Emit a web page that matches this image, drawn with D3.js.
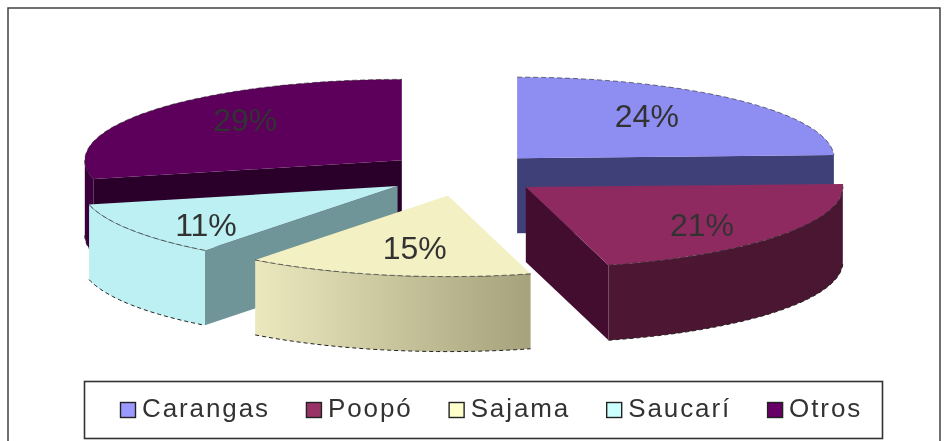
<!DOCTYPE html>
<html><head><meta charset="utf-8">
<script src="https://cdn.jsdelivr.net/npm/d3@7"></script>
<style>html,body{margin:0;padding:0;background:#fff;overflow:hidden}svg{display:block}</style>
</head><body><svg id="c" width="948" height="441"></svg>
<script>
const categories = ["Carangas","Poopó","Sajama","Saucarí","Otros"];
const values = [24.4,21.4,14.6,10.9,28.7];
const labels = ["24%","21%","15%","11%","29%"];
const legendColors = ["#9999FF","#993366","#FFFFCC","#CCFFFF","#660066"];
const topColors = ["#8E8EF2","#8F2B60","#F3F0C4","#BDF0F2","#5C005C"];
const wallColors = ["#404078","#420F2D","#A8A57E","#6F9598","#2B002B"];
const arcLeft = ["#404078","#4E1232","#ECE8BE","#BDF0F2","#3A003A"];
const arcRight = ["#404078","#4A1530","#A5A27C","#BDF0F2","#3A003A"];
const labelFracX = [0.59,0.69,0.54,0.72,0.63];
const labelFracY = [0.72,0.79,0.66,0.88,0.80];

const W=948,H=441,cx=463,cy=174,rx=317,ry=81,depth=75,explodeX=78,explodeY=22;
const svg=d3.select("#c");
const defs=svg.append("defs");
defs.append("filter").attr("id","soft").attr("x",0).attr("y",0).attr("width",1).attr("height",1)
  .append("feGaussianBlur").attr("stdDeviation",0.45);
const root=svg.append("g").attr("filter","url(#soft)");
root.append("rect").attr("width",W).attr("height",H).attr("fill","#fff");
root.append("rect").attr("x",8).attr("y",8).attr("width",932).attr("height",440)
  .attr("fill","#fff").attr("stroke","#333").attr("stroke-width",1.4);

const arcs=d3.pie().sort(null)(values).map((d,i)=>({...d,i}));
const sx=d3.scaleLinear().domain([-1,1]).range([-rx,rx]);
const sy=d3.scaleLinear().domain([-1,1]).range([-ry,ry]);
const apex=d=>{const m=(d.startAngle+d.endAngle)/2;
  return [cx+explodeX*Math.sin(m),cy-explodeY*Math.cos(m)];};
const pt=(d,a,f=1,dz=0)=>{const c=apex(d);
  return [c[0]+sx(f*Math.sin(a)),c[1]+sy(-f*Math.cos(a))+dz];};
const line=d3.line();
const sweep=(a0,a1)=>{const n=Math.max(2,Math.ceil((a1-a0)*40));
  return d3.range(n+1).map(k=>a0+(a1-a0)*k/n);};

function radial(d,a){const c=apex(d),e=pt(d,a);
  return line([c,e,[e[0],e[1]+depth],[c[0],c[1]+depth]])+"Z";}

function drawSlice(d){
  const g=root.append("g"),i=d.i;
  if(Math.sin(d.startAngle)<-1e-6)
    g.append("path").attr("d",radial(d,d.startAngle)).attr("fill",wallColors[i]);
  if(Math.sin(d.endAngle)>1e-6)
    g.append("path").attr("d",radial(d,d.endAngle)).attr("fill",wallColors[i]);
  const a0=Math.max(d.startAngle,Math.PI/2),a1=Math.min(d.endAngle,Math.PI*1.5);
  if(a1>a0){
    const top=sweep(a0,a1).map(a=>pt(d,a));
    const bot=sweep(a0,a1).map(a=>pt(d,a,1,depth)).reverse();
    const xs=top.map(p=>p[0]);
    const id="arcg"+i;
    const lg=defs.append("linearGradient").attr("id",id).attr("gradientUnits","userSpaceOnUse")
      .attr("x1",d3.min(xs)).attr("x2",d3.max(xs)).attr("y1",0).attr("y2",0);
    lg.append("stop").attr("offset",0).attr("stop-color",arcLeft[i]);
    lg.append("stop").attr("offset",1).attr("stop-color",arcRight[i]);
    g.append("path").attr("d",line(top.concat(bot))+"Z").attr("fill",`url(#${id})`);
    g.append("path").attr("d",line(bot)).attr("fill","none").attr("stroke","#222")
      .attr("stroke-width",1).attr("stroke-dasharray","4 3");
    g.append("path").attr("d",line(top)).attr("fill","none").attr("stroke","#444").attr("stroke-opacity",0.6).attr("stroke-width",1);
  }
  const face=[apex(d)].concat(sweep(d.startAngle,d.endAngle).map(a=>pt(d,a)));
  g.append("path").attr("d",line(face)+"Z").attr("fill",topColors[i]);
  g.append("path").attr("d",line(sweep(d.startAngle,d.endAngle).map(a=>pt(d,a)))).attr("fill","none")
    .attr("stroke","#222").attr("stroke-opacity",0.6).attr("stroke-width",1).attr("stroke-dasharray","5 3");
}
// back slices first, front slices last
[4,0,3,1,2].forEach(k=>drawSlice(arcs[k]));

arcs.forEach(d=>{
  const m=(d.startAngle+d.endAngle)/2,c=apex(d);
  root.append("text").attr("x",c[0]+sx(labelFracX[d.i]*Math.sin(m))).attr("y",c[1]+sy(-labelFracY[d.i]*Math.cos(m)))
    .attr("text-anchor","middle").attr("dominant-baseline","central")
    .attr("font-family","'Liberation Sans',Arial,sans-serif").attr("font-size",32)
    .attr("fill","#333").text(labels[d.i]);
});

// legend
root.append("rect").attr("x",84.5).attr("y",381.5).attr("width",798).attr("height",57)
  .attr("fill","#fff").attr("stroke","#333").attr("stroke-width",1.6);
let lx=120;
categories.forEach((name,i)=>{
  root.append("rect").attr("x",lx+.5).attr("y",402.5).attr("width",15).attr("height",15)
    .attr("fill",legendColors[i]).attr("stroke","#222").attr("stroke-width",1.4);
  const t=root.append("text").attr("x",lx+22).attr("y",417)
    .attr("font-family","'Liberation Sans',Arial,sans-serif").attr("font-size",26)
    .attr("letter-spacing",1.9).attr("fill","#333").text(name);
  lx+=22+t.node().getComputedTextLength()+36;
});
</script></body></html>
